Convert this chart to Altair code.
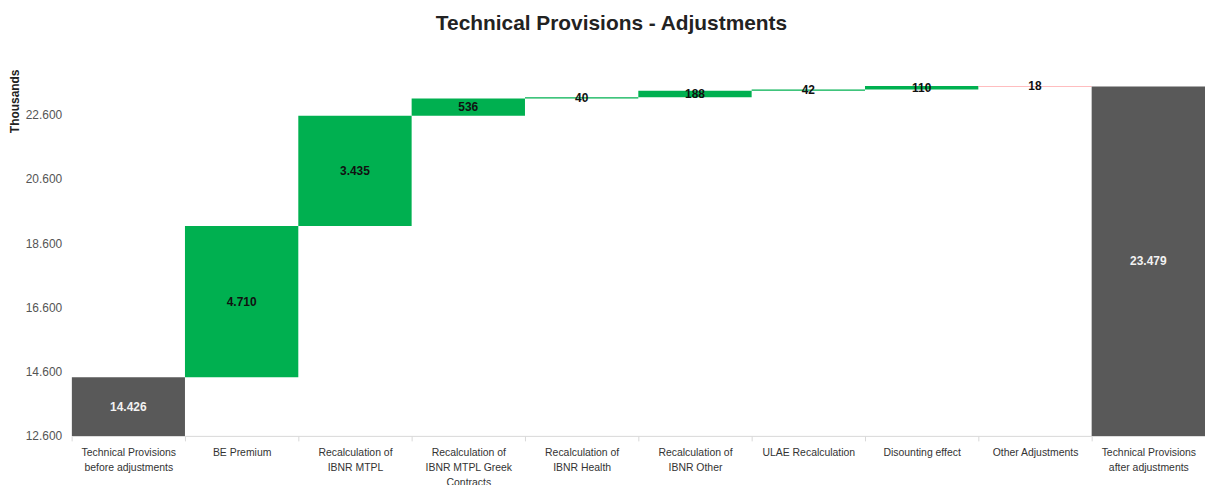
import altair as alt
import pandas as pd

categories = [
    "Technical Provisions|before adjustments",
    "BE Premium",
    "Recalculation of|IBNR MTPL",
    "Recalculation of|IBNR MTPL Greek|Contracts",
    "Recalculation of|IBNR Health",
    "Recalculation of|IBNR Other",
    "ULAE Recalculation",
    "Disounting effect",
    "Other Adjustments",
    "Technical Provisions|after adjustments",
]
values = [14426, 4710, 3435, 536, 40, 198, 42, 110, -18, 23479]
kinds = ["total", "increase", "increase", "increase", "increase", "increase",
         "increase", "increase", "decrease", "total"]
labels = ["14.426", "4.710", "3.435", "536", "40", "188", "42", "110", "18", "23.479"]

axis_min = 12600
axis_max = 23900
tick_values = [12600, 14600, 16600, 18600, 20600, 22600]

rows = []
running = 0
for c, v, k, lab in zip(categories, values, kinds, labels):
    if k == "total":
        start, end = 0, v
        running = v
    else:
        start, end = running, running + v
        running = end
    lo, hi = min(start, end), max(start, end)
    mid = (max(lo, axis_min) + hi) / 2
    rows.append(dict(cat=c, start=start, end=end, kind=k, label=lab, mid=mid,
                     tcolor="#f2f2f2" if k == "total" else "#111111"))
df = pd.DataFrame(rows)

x_enc = alt.X(
    "cat:N", sort=categories, title=None,
    scale=alt.Scale(paddingInner=0, paddingOuter=0),
    axis=alt.Axis(
        labelAngle=0, labelExpr="split(datum.label, '|')",
        labelFont="Liberation Sans", labelFontSize=10.5, labelColor="#333333",
        labelLineHeight=15, labelPadding=7, labelLimit=200,
        domainColor="#d9d9d9", tickColor="#d9d9d9", tickSize=5, tickBand="extent",
        bandPosition=0,
    ),
)

y_scale = alt.Scale(domain=[axis_min, axis_max], nice=False, zero=False)

bars = alt.Chart(df).mark_bar(clip=True).encode(
    x=x_enc,
    y=alt.Y(
        "start:Q", scale=y_scale, title="Thousands",
        axis=alt.Axis(
            values=tick_values, grid=False, domain=False, ticks=False,
            labelExpr="replace(format(datum.value, ',d'), ',', '.')",
            labelFont="Liberation Sans", labelFontSize=12, labelColor="#555555",
            labelPadding=10,
            titleFont="Liberation Sans", titleFontSize=12, titleFontWeight="bold",
            titleColor="#222222", titleAngle=-90, titleAlign="right",
            titleX=-50, titleY=-4,
        ),
    ),
    y2="end:Q",
    color=alt.Color(
        "kind:N",
        scale=alt.Scale(domain=["total", "increase", "decrease"],
                        range=["#595959", "#00B050", "#FF7C80"]),
        legend=None,
    ),
)

text = alt.Chart(df).mark_text(
    font="Liberation Sans", fontSize=12, fontWeight="bold"
).encode(
    x=alt.X("cat:N", sort=categories),
    y=alt.Y("mid:Q", scale=y_scale),
    text="label:N",
    color=alt.Color("tcolor:N", scale=None),
)

chart = alt.layer(bars, text).properties(
    width=1140,
    height=365,
    title=alt.TitleParams(
        "Technical Provisions - Adjustments",
        font="Liberation Sans", fontSize=21, fontWeight="bold", color="#222222",
        anchor="middle", frame="group", dx=-27, offset=35,
    ),
    autosize=alt.AutoSizeParams(type="none"),
    padding={"left": 64, "top": 64, "right": 0, "bottom": 48},
).configure_view(stroke=None)

chart.save("out.html", embed_options={"renderer": "svg", "actions": False})
